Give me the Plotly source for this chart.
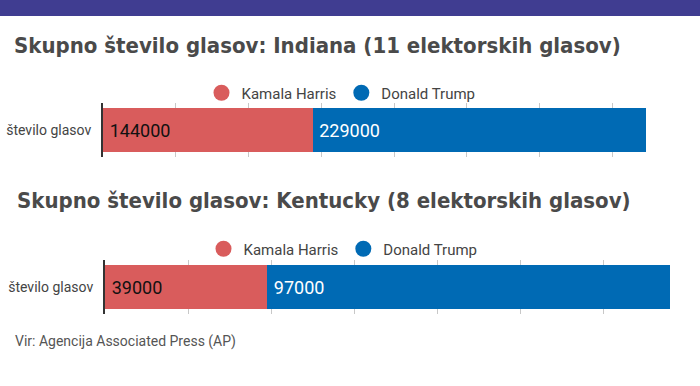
import plotly.graph_objects as go

W, H = 700, 386

candidates = ["Kamala Harris", "Donald Trump"]
colors = ["#d95c5c", "#006ab4"]
text_colors = ["#111111", "#ffffff"]
category = ["število glasov"]

indiana_votes = [144000, 229000]
kentucky_votes = [39000, 97000]

titles = [
    "Skupno število glasov: Indiana (11 elektorskih glasov)",
    "Skupno število glasov: Kentucky (8 elektorskih glasov)",
]
source = "Vir: Agencija Associated Press (AP)"

def py(px):
    return 1 - px / H

fig = go.Figure()

panels = [
    (indiana_votes, "x", "y", "legend"),
    (kentucky_votes, "x2", "y2", "legend2"),
]
for votes, xa, ya, lg in panels:
    for name, v, c, tc in zip(candidates, votes, colors, text_colors):
        fig.add_trace(go.Bar(
            x=[v], y=category, orientation="h", name=name,
            marker=dict(color=c, line=dict(width=0)),
            texttemplate="\u2009%{x:.0f}", textposition="inside", insidetextanchor="start",
            textfont=dict(family="Roboto", size=18, color=tc),
            xaxis=xa, yaxis=ya, showlegend=False, hoverinfo="x+name",
        ))
    for name, c in zip(candidates, colors):
        fig.add_trace(go.Scatter(
            x=[None], y=[None], mode="markers", name=name,
            marker=dict(color=c, size=16, symbol="circle"),
            xaxis=xa, yaxis=ya, legend=lg, showlegend=True,
        ))

font_title = dict(family="DejaVu Sans Condensed, Roboto", size=22, color="#4a4a4a")

common_x = dict(showgrid=True, gridcolor="#c8c8c8", gridwidth=1, showticklabels=False,
                zeroline=False, showline=False, ticks="", fixedrange=True)
common_y = dict(type="category", range=[-0.5, 0.5], showline=True, linecolor="#333333",
                linewidth=2, ticks="", showgrid=False, fixedrange=True, ticklabelstandoff=7,
                tickfont=dict(family="Roboto", size=14, color="#444444"))

legend_common = dict(orientation="h", xanchor="center", yanchor="middle", traceorder="normal",
                     font=dict(family="Roboto", size=15, color="#444444"), itemclick=False,
                     bgcolor="rgba(0,0,0,0)")

fig.update_layout(
    width=W, height=H,
    margin=dict(l=0, r=0, t=0, b=0),
    paper_bgcolor="white", plot_bgcolor="white",
    barmode="stack", bargap=0.167,
    xaxis=dict(domain=[103 / W, 685 / W], range=[0, 400000], dtick=50000, anchor="y", **common_x),
    yaxis=dict(domain=[py(157), py(103)], anchor="x", **common_y),
    xaxis2=dict(domain=[105 / W, 687 / W], range=[0, 140000], dtick=20000, anchor="y2", **common_x),
    yaxis2=dict(domain=[py(314), py(260)], anchor="x2", **common_y),
    legend=dict(x=341 / W, y=py(93), **legend_common),
    legend2=dict(x=343 / W, y=py(249), **legend_common),
    shapes=[dict(type="rect", xref="paper", yref="paper", x0=0, x1=1, y0=py(16), y1=1,
                 fillcolor="#403d91", line=dict(width=0), layer="above")],
    annotations=[
        dict(text="<b>" + titles[0] + "</b>", xref="paper", yref="paper", x=12 / W, y=py(46),
             xanchor="left", yanchor="middle", showarrow=False, font=font_title),
        dict(text="<b>" + titles[1] + "</b>", xref="paper", yref="paper", x=15 / W, y=py(201),
             xanchor="left", yanchor="middle", showarrow=False, font=font_title),
        dict(text=source, xref="paper", yref="paper", x=13 / W, y=py(341),
             xanchor="left", yanchor="middle", showarrow=False,
             font=dict(family="Roboto", size=14, color="#555555")),
    ],
)

fig.write_html("out.html", config={"displayModeBar": False},
               post_script="document.body.style.margin='0';")
